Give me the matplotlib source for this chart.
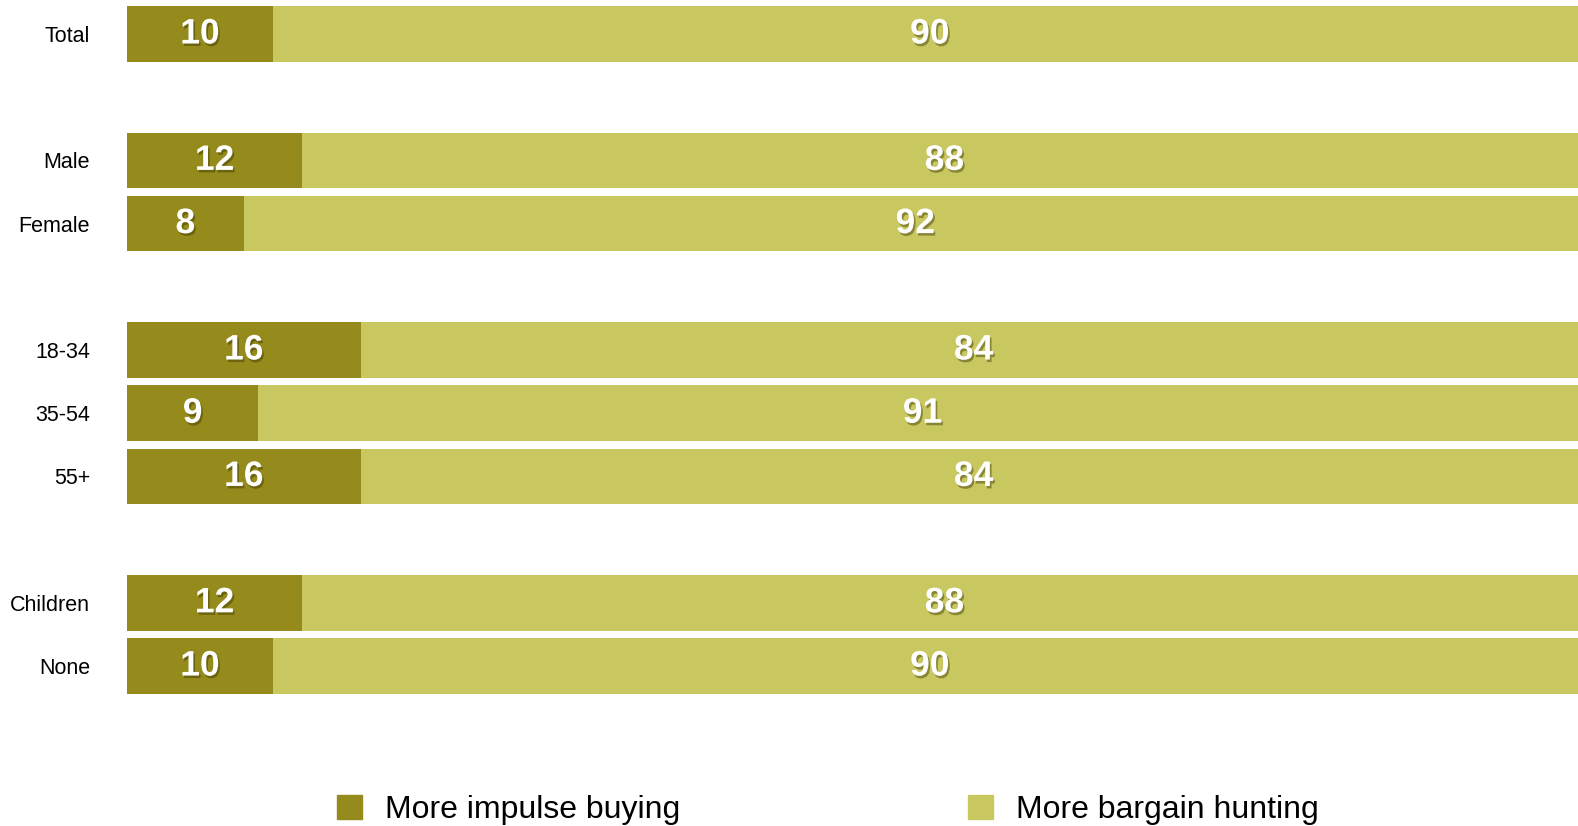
import matplotlib

matplotlib.use("Agg")
import matplotlib.pyplot as plt
import matplotlib.patheffects as pe
from matplotlib.patches import Patch

plt.rcParams["font.family"] = ["Liberation Sans", "DejaVu Sans"]

# Survey split by group, percent of respondents.
groups = ["Total", "Male", "Female", "18-34", "35-54", "55+", "Children", "None"]
impulse = [10, 12, 8, 16, 9, 16, 12, 10]
bargain = [90, 88, 92, 84, 91, 84, 88, 90]
# Row slots; skipped slots leave a gap between blocks of groups.
rows = [0, 2, 3, 5, 6, 7, 9, 10]

DARK = "#958a1c"
LIGHT = "#c9c760"

fig = plt.figure(figsize=(15.78, 8.26), dpi=100)
ax = fig.add_axes([127 / 1578, 86 / 826, 1 - 127 / 1578, 740 / 826])

ax.barh(rows, impulse, height=0.88, color=DARK, linewidth=0)
ax.barh(rows, bargain, left=impulse, height=0.88, color=LIGHT, linewidth=0)

shadow = [pe.withSimplePatchShadow(offset=(1.2, -1.8), shadow_rgbFace="#3a3500", alpha=0.45)]
for y, a, b in zip(rows, impulse, bargain):
    ax.text(a / 2, y, str(a), ha="center", va="center", color="white",
            fontsize=25.5, fontweight="bold", path_effects=shadow)
    ax.text(a + b / 2, y, str(b), ha="center", va="center", color="white",
            fontsize=25.5, fontweight="bold", path_effects=shadow)

ax.set_xlim(0, 99.4)
ax.set_ylim(11.17, -0.538)
ax.set_yticks(rows)
ax.set_yticklabels(groups, fontsize=15.5)
ax.tick_params(axis="y", length=0, pad=26.5)
ax.set_xticks([])
for s in ax.spines.values():
    s.set_visible(False)

handles = [Patch(color=DARK), Patch(color=LIGHT)]
fig.legend(handles, ["More impulse buying", "More bargain hunting"],
           loc="center", bbox_to_anchor=(828 / 1578, 1 - 810 / 826), ncol=2,
           frameon=False, fontsize=23, handlelength=0.78, handleheight=0.78,
           handletextpad=0.72, columnspacing=9.0, borderaxespad=0)

fig.savefig("out.png", dpi=100)
